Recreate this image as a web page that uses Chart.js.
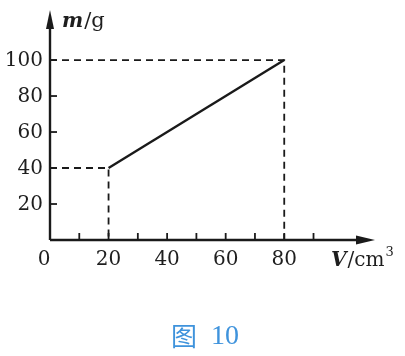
<!DOCTYPE html>
<html><head><meta charset="utf-8">
<script src="https://cdn.jsdelivr.net/npm/chart.js@4/dist/chart.umd.min.js"></script>
<style>html,body{margin:0;padding:0;background:#fff}#wrap{width:405px;height:356px}</style>
</head><body><div id="wrap"><canvas id="c"></canvas></div>
<script>
const lineV = [20, 80];          // cm^3
const lineM = [40, 100];         // g
const xTicks = [10, 20, 30, 40, 50, 60, 70, 80, 90];
const xLabels = [0, 20, 40, 60, 80];
const yTicks = [20, 40, 60, 80, 100];
const yLabels = [20, 40, 60, 80, 100];
const captionChar = '图';
const captionNum = '10';

const ink = '#1a1a1a';
const serif = '"DejaVu Serif","Liberation Serif",serif';

const axesPlugin = {
  id: 'axesPlugin',
  afterDraw(chart) {
    const ctx = chart.ctx, xs = chart.scales.x, ys = chart.scales.y;
    const x0 = xs.getPixelForValue(0), y0 = ys.getPixelForValue(0);
    const xEnd = xs.right, yEnd = ys.top;
    ctx.save();
    ctx.strokeStyle = ink; ctx.fillStyle = ink; ctx.lineWidth = 2.4;
    // axes
    ctx.beginPath(); ctx.moveTo(x0, y0); ctx.lineTo(xEnd - 10, y0); ctx.stroke();
    ctx.beginPath(); ctx.moveTo(x0, y0); ctx.lineTo(x0, yEnd + 10); ctx.stroke();
    // arrows
    ctx.beginPath(); ctx.moveTo(xEnd, y0); ctx.lineTo(xEnd - 19, y0 - 4.5); ctx.lineTo(xEnd - 19, y0 + 4.5); ctx.closePath(); ctx.fill();
    ctx.beginPath(); ctx.moveTo(x0, yEnd); ctx.lineTo(x0 - 4, yEnd + 19); ctx.lineTo(x0 + 4, yEnd + 19); ctx.closePath(); ctx.fill();
    // ticks
    ctx.lineWidth = 1.8;
    xTicks.forEach(v => { const p = xs.getPixelForValue(v); ctx.beginPath(); ctx.moveTo(p, y0); ctx.lineTo(p, y0 - 7); ctx.stroke(); });
    yTicks.forEach(v => { const p = ys.getPixelForValue(v); ctx.beginPath(); ctx.moveTo(x0, p); ctx.lineTo(x0 + 7, p); ctx.stroke(); });
    // labels
    ctx.fillStyle = '#1e1e1e';
    ctx.font = '20px ' + serif;
    ctx.textAlign = 'center'; ctx.textBaseline = 'middle';
    xLabels.forEach(v => { const p = xs.getPixelForValue(v); ctx.fillText(String(v), v === 0 ? p - 6 : p, y0 + 20); });
    ctx.textAlign = 'right';
    yLabels.forEach(v => { const p = ys.getPixelForValue(v); ctx.fillText(String(v), x0 - 7, p + 1); });
    // axis titles
    ctx.textAlign = 'left';
    ctx.font = 'italic bold 20px ' + serif; ctx.fillText('m', 62, 22);
    let w = ctx.measureText('m').width;
    ctx.font = '21px ' + serif; ctx.fillText('/g', 62 + w + 1, 22);
    ctx.font = 'italic bold 20px ' + serif; ctx.fillText('V', 331, y0 + 21);
    w = ctx.measureText('V').width;
    ctx.font = '20px ' + serif; ctx.fillText('/cm', 331 + w + 1, y0 + 21);
    const w2 = ctx.measureText('/cm').width;
    ctx.font = '13px ' + serif; ctx.fillText('3', 331 + w + 1 + w2 + 1, y0 + 13);
    // caption
    ctx.fillStyle = '#3f93dc';
    ctx.textAlign = 'left';
    ctx.font = '26px "Noto Sans CJK SC",serif';
    ctx.fillText(captionChar, 171, 336);
    ctx.font = '28px "Liberation Serif",serif';
    ctx.fillText(captionNum, 211, 337);
    ctx.restore();
  }
};

new Chart(document.getElementById('c'), {
  type: 'scatter',
  data: {
    datasets: [
      { data: [{x: 0, y: lineM[1]}, {x: lineV[1], y: lineM[1]}, {x: lineV[1], y: 0}], showLine: true, borderColor: ink, borderWidth: 1.8, borderDash: [7, 5], pointRadius: 0 },
      { data: [{x: 0, y: lineM[0]}, {x: lineV[0], y: lineM[0]}, {x: lineV[0], y: 0}], showLine: true, borderColor: ink, borderWidth: 1.8, borderDash: [7, 5], pointRadius: 0 },
      { data: lineV.map((v, i) => ({x: v, y: lineM[i]})), showLine: true, borderColor: ink, borderWidth: 2.4, pointRadius: 0 }
    ]
  },
  options: {
    responsive: true, maintainAspectRatio: false, animation: false,
    layout: { padding: { left: 50, right: 30, top: 10, bottom: 116 } },
    plugins: { legend: { display: false }, tooltip: { enabled: false } },
    scales: {
      x: { type: 'linear', min: 0, max: 111, display: false },
      y: { type: 'linear', min: 0, max: 127.8, display: false }
    }
  },
  plugins: [axesPlugin]
});
</script>
</body></html>
